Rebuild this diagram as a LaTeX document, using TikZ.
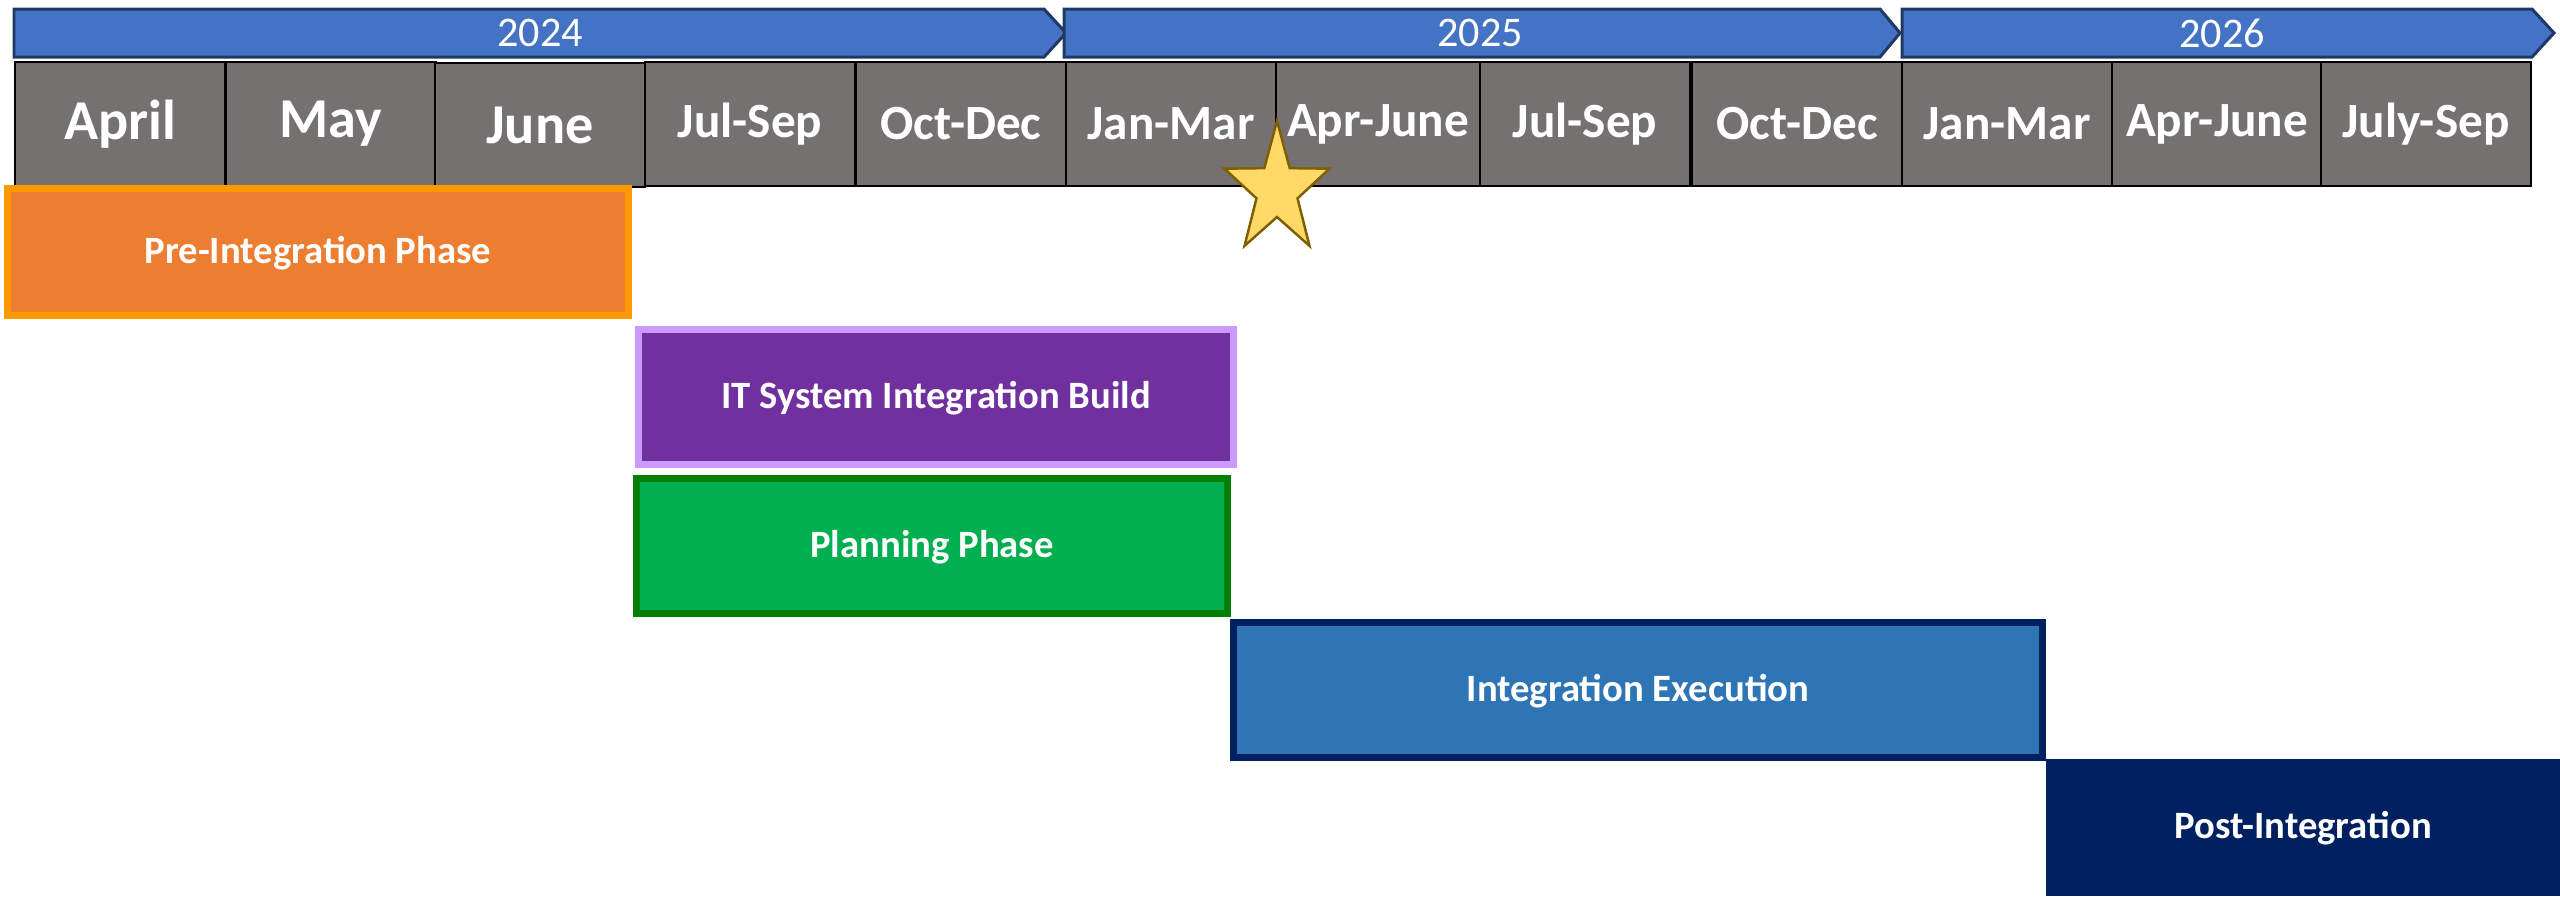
\documentclass[tikz,border=0pt]{standalone}
\usepackage{fontspec}
\setmainfont{Carlito}
\usepackage{tikz}

\definecolor{yearblue}{HTML}{4472C4}
\definecolor{yearedge}{HTML}{1F3864}
\definecolor{cellgray}{HTML}{767171}
\definecolor{preorange}{HTML}{ED7D31}
\definecolor{preedge}{HTML}{FF9900}
\definecolor{itpurple}{HTML}{7030A0}
\definecolor{itedge}{HTML}{CC99FF}
\definecolor{plangreen}{HTML}{00B050}
\definecolor{planedge}{HTML}{008000}
\definecolor{execblue}{HTML}{2E75B6}
\definecolor{navy}{HTML}{002060}
\definecolor{starfill}{HTML}{FFD966}
\definecolor{staredge}{HTML}{7F6000}

\begin{document}
\begin{tikzpicture}[x=0.01cm, y=-0.01cm, every node/.style={text=white, inner sep=0pt},
	cell/.style={rectangle, draw=black, line width=0.6pt, fill=cellgray, minimum width=2.1cm, minimum height=1.24cm},
	monthcell/.style={cell, font=\bfseries\fontsize{16}{18}\selectfont},
	quartercell/.style={cell, font=\bfseries\fontsize{14}{16}\selectfont},
	yeararrow/.style={fill=yearblue, draw=yearedge, line width=0.85pt, line join=miter},
	yeartext/.style={font=\fontsize{12}{14}\selectfont},
	phase/.style={rectangle, line width=2pt, text height=0.64em, text depth=0pt, font=\bfseries\fontsize{11}{13}\selectfont}]
			\useasboundingbox (0,0) rectangle (2560,896);

			% Years
			\draw[yeararrow] (14,9) -- (1044,9) -- (1066,33) -- (1044,57) -- (14,57) -- cycle;
			\draw[yeararrow] (1064,9) -- (1880,9) -- (1900,33) -- (1880,57) -- (1064,57) -- cycle;
			\draw[yeararrow] (1902,9) -- (2532,9) -- (2554,33) -- (2532,57) -- (1902,57) -- cycle;
			\node[yeartext] (y2024) at (540,33) {2024};
			\node[yeartext] (y2025) at (1480,33) {2025};
			\node[yeartext] (y2026) at (2222,33) {2026};

			% Months and quarters
			\node[monthcell] (apr24) at (120,124) {April};
			\node[monthcell] (may24) at (331,124) {May};
			\node[monthcell] (jun24) at (540,125) {June};
			\node[quartercell] (q3y24) at (750,124) {Jul-Sep};
			\node[quartercell] (q4y24) at (961,124) {Oct-Dec};
			\node[quartercell] (q1y25) at (1171,124) {Jan-Mar};
			\node[quartercell, minimum width=2.04cm] (q2y25) at (1378,124) {Apr-June};
			\node[quartercell] (q3y25) at (1585,124) {Jul-Sep};
			\node[quartercell] (q4y25) at (1797,124) {Oct-Dec};
			\node[quartercell] (q1y26) at (2007,124) {Jan-Mar};
			\node[quartercell] (q2y26) at (2217,124) {Apr-June};
			\node[quartercell] (q3y26) at (2426,124) {July-Sep};

			% Milestone
			\begin{scope}[shift={(1277,190)}, x=0.008cm, y=0.01cm]
				\draw[fill=starfill, draw=staredge, line width=0.7pt, line join=miter]
					(90:69) -- (126:27) -- (162:69) -- (198:27) -- (234:69) -- (270:27)
					-- (306:69) -- (342:27) -- (18:69) -- (54:27) -- cycle;
			\end{scope}

			% Phases
			\node[phase, fill=preorange, draw=preedge, minimum width=6.21cm, minimum height=1.26cm] (pre) at (318,252) {Pre-Integration Phase};
			\node[phase, fill=itpurple, draw=itedge, minimum width=5.94cm, minimum height=1.34cm] (build) at (936,397) {IT System Integration Build};
			\node[phase, fill=plangreen, draw=planedge, minimum width=5.9cm, minimum height=1.34cm] (plan) at (932,546) {Planning Phase};
			\node[phase, fill=execblue, draw=navy, minimum width=8.09cm, minimum height=1.35cm] (exec) at (1638,690) {Integration Execution};
			\node[phase, fill=navy, minimum width=5.14cm, minimum height=1.37cm] (post) at (2303,827.5) {Post-Integration};
		\end{tikzpicture}
\end{document}
